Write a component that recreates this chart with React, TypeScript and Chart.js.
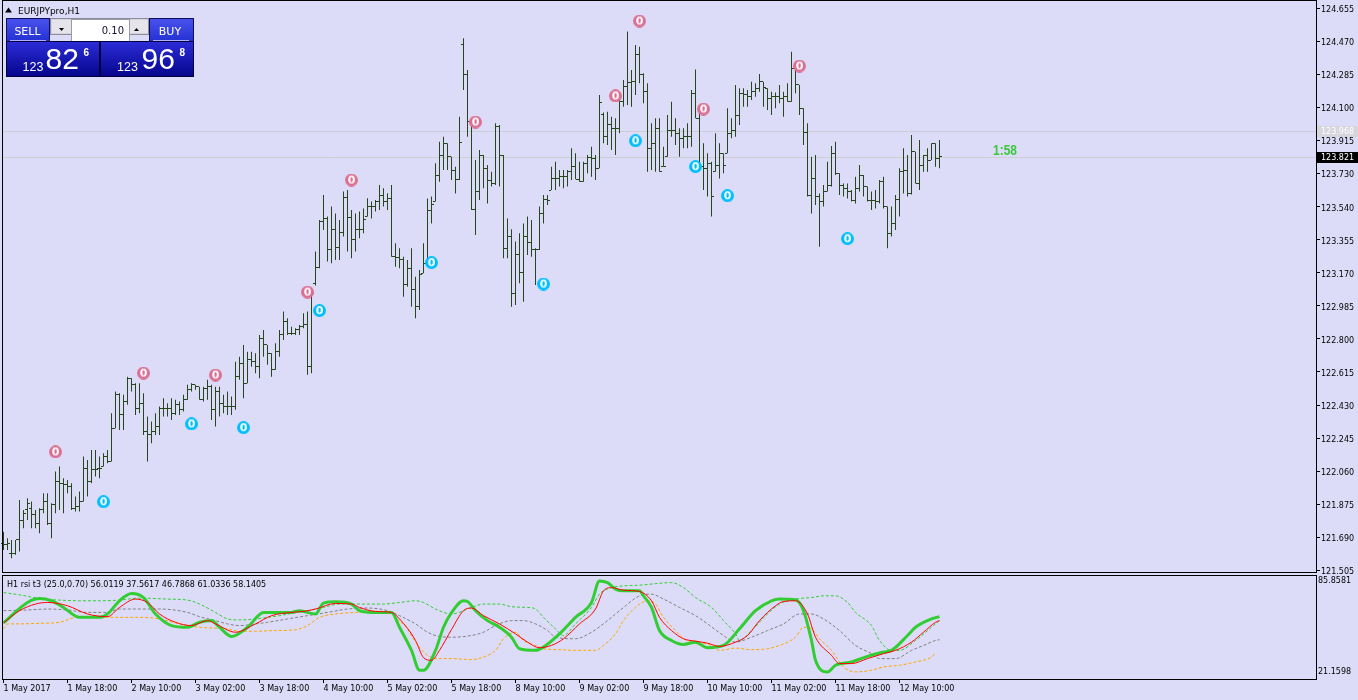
import React, { useEffect, useRef } from 'react';
import { Chart, registerables } from 'chart.js';

Chart.register(...registerables);

// ---------- texts ----------
const symbolTitle = 'EURJPYpro,H1';
const indicatorTitle = 'H1 rsi t3 (25.0,0.70) 56.0119 37.5617 46.7868 61.0336 58.1405';
const lotSize = '0.10';
const sellParts = ['123', '82', '6'];
const buyParts = ['123', '96', '8'];
const timerText = '1:58';
const bidPrice = 123.821;
const askPrice = 123.968;
const bidLabel = '123.821';
const askLabel = '123.968';

// ---------- axes ----------
const priceTicks = [124.655, 124.47, 124.285, 124.1, 123.915, 123.73, 123.54, 123.355, 123.17, 122.985, 122.8, 122.615, 122.43, 122.245, 122.06, 121.875, 121.69, 121.505];
const priceMin = 121.494;
const priceMax = 124.7;
const rsiMin = 21.1598;
const rsiMax = 85.8581;
const rsiAxisLabels = ['85.8581', '21.1598'];
const timeTickIdx = [0, 16, 32, 48, 64, 80, 96, 112, 128, 144, 160, 176, 192, 208, 224];
const timeLabels = ['1 May 2017', '1 May 18:00', '2 May 10:00', '3 May 02:00', '3 May 18:00', '4 May 10:00', '5 May 02:00', '5 May 18:00', '8 May 10:00', '9 May 02:00', '9 May 18:00', '10 May 10:00', '11 May 02:00', '11 May 18:00', '12 May 10:00'];
const X_MIN = -0.375;
const X_MAX = 328.125;

// ---------- OHLC (H1 bars) ----------
const opens = [
  121.655, 121.646, 121.599, 121.599, 121.674, 121.782, 121.842, 121.851, 121.814, 121.767,
  121.842, 121.889, 121.767, 121.870, 122.001, 121.991, 121.982, 121.973, 121.851, 121.861,
  121.889, 122.076, 122.001, 122.066, 122.076, 122.085, 122.141, 122.113, 122.300, 122.487,
  122.374, 122.449, 122.580, 122.543, 122.412, 122.440, 122.281, 122.262, 122.281, 122.309,
  122.412, 122.412, 122.412, 122.384, 122.431, 122.403, 122.459, 122.515, 122.543, 122.533,
  122.459, 122.524, 122.533, 122.403, 122.505, 122.440, 122.421, 122.421, 122.421, 122.589,
  122.664, 122.552, 122.683, 122.673, 122.645, 122.804, 122.767, 122.720, 122.627, 122.729,
  122.823, 122.898, 122.832, 122.832, 122.851, 122.869, 122.879, 122.645, 123.110, 123.202,
  123.460, 123.476, 123.299, 123.415, 123.310, 123.396, 123.594, 123.482, 123.359, 123.411,
  123.411, 123.486, 123.542, 123.545, 123.570, 123.602, 123.570, 123.588, 123.261, 123.258,
  123.243, 123.106, 123.196, 123.075, 122.981, 123.168, 123.224, 123.519, 123.570, 123.719,
  123.826, 123.897, 123.822, 123.747, 123.695, 124.448, 124.280, 124.018, 123.523, 123.626,
  123.831, 123.753, 123.691, 123.669, 123.990, 123.826, 123.308, 123.377, 123.056, 123.275,
  123.174, 123.377, 123.340, 123.299, 123.299, 123.504, 123.583, 123.635, 123.701, 123.701,
  123.710, 123.710, 123.738, 123.766, 123.695, 123.682, 123.785, 123.818, 123.813, 123.757,
  124.060, 123.934, 124.003, 123.979, 123.979, 124.130, 124.214, 124.237, 124.242, 124.397,
  124.280, 124.186, 123.869, 123.897, 123.981, 123.766, 123.822, 123.971, 123.971, 123.953,
  123.925, 123.934, 123.934, 124.177, 124.037, 123.766, 123.757, 123.785, 123.738, 123.775,
  123.841, 123.841, 123.953, 123.971, 124.055, 124.177, 124.168, 124.158, 124.186, 124.205,
  124.242, 124.205, 124.149, 124.158, 124.158, 124.149, 124.158, 124.130, 124.317, 124.224,
  124.093, 123.956, 123.607, 123.700, 123.598, 123.570, 123.626, 123.663, 123.841, 123.729,
  123.663, 123.644, 123.626, 123.579, 123.644, 123.719, 123.654, 123.579, 123.575, 123.570,
  123.682, 123.542, 123.392, 123.448, 123.583, 123.738, 123.747, 123.616, 123.850, 123.672,
  123.775, 123.831, 123.803, 123.897, 123.813,
];
const highs = [
  121.720, 121.683, 121.674, 121.674, 121.898, 121.842, 121.907, 121.889, 121.842, 121.851,
  121.935, 121.935, 121.879, 122.057, 122.085, 122.020, 122.010, 121.991, 121.917, 121.945,
  122.141, 122.122, 122.178, 122.178, 122.141, 122.160, 122.178, 122.384, 122.505, 122.496,
  122.487, 122.589, 122.580, 122.552, 122.552, 122.496, 122.365, 122.337, 122.384, 122.421,
  122.468, 122.440, 122.468, 122.459, 122.449, 122.487, 122.543, 122.552, 122.543, 122.533,
  122.533, 122.571, 122.543, 122.533, 122.533, 122.487, 122.505, 122.477, 122.673, 122.701,
  122.767, 122.729, 122.729, 122.720, 122.823, 122.851, 122.767, 122.720, 122.776, 122.851,
  122.954, 122.916, 122.869, 122.860, 122.879, 122.944, 122.954, 123.056, 123.290, 123.467,
  123.607, 123.486, 123.542, 123.504, 123.467, 123.626, 123.635, 123.523, 123.504, 123.514,
  123.532, 123.589, 123.570, 123.579, 123.663, 123.645, 123.617, 123.663, 123.336, 123.308,
  123.261, 123.243, 123.308, 123.149, 123.187, 123.336, 123.588, 123.598, 123.785, 123.906,
  123.934, 123.897, 123.822, 123.766, 124.046, 124.485, 124.308, 124.028, 123.803, 123.859,
  123.831, 123.775, 123.738, 124.009, 124.000, 123.831, 123.476, 123.415, 123.346, 123.392,
  123.448, 123.486, 123.467, 123.308, 123.542, 123.607, 123.607, 123.766, 123.794, 123.747,
  123.747, 123.747, 123.869, 123.841, 123.794, 123.794, 123.831, 123.878, 123.831, 124.168,
  124.069, 124.074, 124.046, 124.037, 124.140, 124.252, 124.523, 124.308, 124.448, 124.438,
  124.289, 124.233, 124.009, 124.037, 124.037, 123.878, 124.055, 124.130, 124.037, 123.981,
  123.981, 124.009, 124.196, 124.311, 124.065, 123.897, 123.841, 123.794, 123.953, 123.897,
  123.841, 124.093, 124.037, 124.224, 124.205, 124.205, 124.196, 124.242, 124.233, 124.285,
  124.242, 124.205, 124.186, 124.181, 124.224, 124.186, 124.233, 124.410, 124.326, 124.224,
  124.093, 124.009, 123.822, 123.831, 123.616, 123.663, 123.794, 123.882, 123.906, 123.729,
  123.672, 123.672, 123.635, 123.710, 123.775, 123.719, 123.654, 123.626, 123.635, 123.691,
  123.710, 123.542, 123.542, 123.607, 123.757, 123.869, 123.831, 123.943, 123.850, 123.915,
  123.831, 123.869, 123.897, 123.897, 123.915,
];
const lows = [
  121.618, 121.618, 121.571, 121.590, 121.609, 121.739, 121.786, 121.739, 121.739, 121.711,
  121.823, 121.758, 121.683, 121.823, 121.842, 121.823, 121.935, 121.842, 121.833, 121.833,
  121.889, 121.917, 121.991, 122.029, 122.020, 122.085, 122.104, 122.113, 122.300, 122.290,
  122.290, 122.431, 122.505, 122.374, 122.384, 122.262, 122.113, 122.216, 122.262, 122.262,
  122.365, 122.365, 122.346, 122.374, 122.374, 122.393, 122.459, 122.505, 122.515, 122.459,
  122.449, 122.459, 122.346, 122.309, 122.365, 122.384, 122.374, 122.374, 122.403, 122.571,
  122.468, 122.552, 122.645, 122.608, 122.580, 122.701, 122.655, 122.589, 122.627, 122.701,
  122.795, 122.823, 122.823, 122.823, 122.823, 122.860, 122.599, 122.608, 123.100, 123.196,
  123.411, 123.234, 123.224, 123.243, 123.243, 123.374, 123.290, 123.252, 123.290, 123.364,
  123.392, 123.486, 123.476, 123.514, 123.523, 123.542, 123.523, 123.261, 123.205, 123.196,
  123.037, 123.093, 122.981, 122.916, 122.963, 123.168, 123.205, 123.448, 123.570, 123.682,
  123.747, 123.747, 123.691, 123.616, 123.691, 124.196, 123.934, 123.523, 123.383, 123.579,
  123.645, 123.560, 123.654, 123.663, 123.654, 123.252, 123.252, 122.981, 122.991, 123.112,
  123.009, 123.271, 123.261, 123.103, 123.299, 123.448, 123.551, 123.635, 123.635, 123.654,
  123.645, 123.654, 123.691, 123.695, 123.682, 123.682, 123.729, 123.710, 123.691, 123.757,
  123.897, 123.887, 123.859, 123.831, 123.953, 124.102, 124.112, 124.102, 124.168, 124.233,
  124.121, 123.738, 123.747, 123.738, 123.738, 123.766, 123.822, 123.934, 123.887, 123.822,
  123.869, 123.869, 123.878, 124.037, 123.757, 123.635, 123.598, 123.486, 123.738, 123.700,
  123.729, 123.841, 123.925, 123.934, 123.999, 124.102, 124.102, 124.140, 124.158, 124.186,
  124.102, 124.083, 124.055, 124.093, 124.121, 124.046, 124.130, 124.130, 124.177, 124.055,
  123.887, 123.598, 123.504, 123.551, 123.317, 123.542, 123.626, 123.654, 123.719, 123.607,
  123.598, 123.588, 123.570, 123.560, 123.626, 123.598, 123.570, 123.523, 123.532, 123.560,
  123.532, 123.308, 123.374, 123.411, 123.486, 123.616, 123.598, 123.610, 123.672, 123.635,
  123.738, 123.738, 123.803, 123.766, 123.757,
];
const closes = [
  121.646, 121.655, 121.599, 121.674, 121.782, 121.823, 121.879, 121.814, 121.767, 121.842,
  121.889, 121.767, 121.870, 122.001, 121.991, 121.982, 121.973, 121.851, 121.861, 121.889,
  122.076, 122.001, 122.066, 122.066, 122.076, 122.141, 122.113, 122.300, 122.487, 122.374,
  122.449, 122.580, 122.543, 122.412, 122.440, 122.281, 122.262, 122.281, 122.309, 122.412,
  122.412, 122.412, 122.384, 122.431, 122.403, 122.459, 122.515, 122.543, 122.533, 122.459,
  122.524, 122.533, 122.403, 122.505, 122.440, 122.421, 122.421, 122.421, 122.589, 122.664,
  122.552, 122.683, 122.673, 122.645, 122.804, 122.767, 122.720, 122.627, 122.729, 122.823,
  122.898, 122.832, 122.832, 122.851, 122.869, 122.879, 122.645, 123.056, 123.202, 123.460,
  123.476, 123.299, 123.415, 123.310, 123.396, 123.594, 123.482, 123.359, 123.411, 123.411,
  123.467, 123.542, 123.545, 123.570, 123.602, 123.570, 123.588, 123.261, 123.258, 123.243,
  123.106, 123.196, 123.075, 122.981, 123.159, 123.224, 123.519, 123.555, 123.719, 123.826,
  123.897, 123.822, 123.747, 123.695, 123.902, 124.280, 124.018, 123.523, 123.626, 123.831,
  123.753, 123.691, 123.669, 123.990, 123.826, 123.308, 123.377, 123.056, 123.275, 123.174,
  123.377, 123.340, 123.299, 123.299, 123.504, 123.583, 123.579, 123.701, 123.701, 123.710,
  123.710, 123.738, 123.766, 123.695, 123.682, 123.785, 123.818, 123.813, 123.757, 124.127,
  123.934, 124.003, 123.979, 123.979, 124.130, 124.214, 124.237, 124.242, 124.397, 124.280,
  124.186, 123.869, 123.897, 123.981, 123.738, 123.766, 123.971, 123.971, 123.953, 123.925,
  123.934, 123.934, 124.177, 124.037, 123.766, 123.757, 123.785, 123.598, 123.775, 123.841,
  123.775, 123.953, 123.971, 124.055, 124.177, 124.168, 124.158, 124.186, 124.205, 124.242,
  124.210, 124.149, 124.158, 124.158, 124.149, 124.158, 124.130, 124.317, 124.224, 124.093,
  123.956, 123.607, 123.700, 123.598, 123.570, 123.626, 123.663, 123.841, 123.729, 123.663,
  123.644, 123.626, 123.579, 123.644, 123.719, 123.654, 123.579, 123.575, 123.570, 123.682,
  123.542, 123.392, 123.448, 123.583, 123.738, 123.747, 123.616, 123.850, 123.672, 123.775,
  123.831, 123.803, 123.897, 123.813, 123.821,
];

// ---------- signal markers ----------
const upSignalIdx = [13, 35, 53, 76, 87, 118, 153, 159, 175, 199];
const upSignalPrice = [122.167, 122.609, 122.598, 123.063, 123.691, 124.016, 124.162, 124.582, 124.089, 124.330];
const dnSignalIdx = [25, 47, 60, 79, 107, 135, 158, 173, 181, 211];
const dnSignalPrice = [121.888, 122.324, 122.303, 122.959, 123.228, 123.108, 123.911, 123.766, 123.603, 123.362];

// ---------- indicator lines ----------
const rsiFastIdx = [0, 6, 9, 12, 15, 19, 24, 26, 29, 32, 35, 38, 42, 46, 49, 52, 54, 57, 61, 65, 68, 72, 74, 78, 80, 83, 87, 89, 93, 97, 99, 102, 104, 105, 108, 110, 112, 115, 116, 118, 121, 124, 127, 129, 133, 135, 139, 143, 147, 149, 151, 153, 155, 159, 160, 162, 164, 167, 170, 173, 176, 180, 184, 188, 192, 194, 198, 200, 202, 203, 206, 208, 212, 216, 220, 222, 226, 228, 232, 234];
const rsiFastVal = [56.06, 68.77, 71.24, 69.82, 65.68, 59.51, 59.51, 61.61, 69.82, 74.32, 71.85, 61.61, 54.39, 53.34, 56.43, 57.48, 53.34, 47.6, 53.34, 62.59, 62.59, 62.59, 63.65, 61.61, 68.4, 69.2, 67.78, 63.65, 62.59, 62.59, 53.34, 38.97, 26.63, 26.63, 38.97, 53.34, 62.41, 69.82, 69.39, 63.65, 57.48, 53.34, 47.17, 40.01, 38.97, 41.0, 49.27, 59.51, 68.77, 82.16, 81.11, 77.03, 75.99, 75.99, 72.9, 65.68, 51.31, 45.14, 42.67, 44.09, 40.63, 42.05, 52.36, 63.65, 69.82, 70.87, 70.43, 63.65, 45.14, 32.8, 25.58, 29.71, 31.75, 35.26, 37.92, 38.97, 48.22, 53.34, 58.53, 59.94];
const rsiRedIdx = [0, 4, 8, 11, 16, 21, 26, 29, 33, 36, 39, 43, 47, 51, 53, 58, 63, 67, 72, 75, 78, 83, 87, 89, 93, 97, 99, 103, 105, 107, 109, 112, 115, 117, 120, 124, 128, 131, 134, 137, 140, 144, 148, 150, 152, 155, 159, 162, 164, 167, 170, 173, 176, 179, 183, 186, 189, 193, 195, 198, 201, 203, 207, 209, 212, 216, 220, 223, 227, 230, 233, 234];
const rsiRedVal = [56.06, 63.65, 67.78, 68.77, 66.73, 61.61, 59.94, 65.68, 70.87, 68.77, 61.61, 56.43, 54.39, 57.48, 55.44, 50.26, 55.44, 60.56, 62.59, 63.21, 64.69, 68.15, 67.78, 65.68, 63.21, 62.59, 58.53, 45.14, 34.46, 32.8, 38.97, 51.92, 63.65, 65.31, 60.56, 55.44, 49.27, 44.09, 40.63, 42.05, 46.19, 55.44, 64.69, 75.99, 78.02, 76.42, 75.55, 69.82, 59.51, 51.31, 46.19, 44.7, 43.47, 41.43, 44.09, 48.22, 57.48, 66.73, 69.39, 69.82, 61.61, 47.17, 35.88, 30.76, 30.76, 33.84, 36.93, 38.97, 44.09, 50.26, 56.43, 57.48];
const rsiSigIdx = [0, 4, 10, 14, 19, 24, 29, 34, 41, 46, 49, 53, 56, 59, 63, 66, 69, 72, 76, 80, 84, 89, 95, 99, 103, 105, 108, 112, 117, 120, 124, 127, 131, 133, 135, 138, 140, 143, 147, 149, 152, 155, 160, 163, 167, 170, 173, 177, 180, 183, 184, 187, 191, 194, 198, 202, 205, 208, 211, 213, 217, 219, 222, 224, 228, 232, 234];
const rsiSigVal = [74.94, 73.52, 70.87, 70.25, 69.82, 69.82, 70.25, 71.48, 70.87, 70.25, 67.78, 62.59, 58.53, 57.91, 58.53, 59.51, 60.56, 61.98, 63.65, 65.68, 67.78, 67.78, 67.78, 68.77, 69.82, 68.77, 64.69, 61.61, 65.68, 67.78, 67.78, 66.11, 65.68, 64.69, 59.51, 52.36, 48.22, 55.44, 65.68, 73.95, 78.02, 79.07, 79.69, 80.49, 81.11, 78.02, 71.85, 65.68, 57.48, 49.27, 45.14, 51.31, 61.61, 67.78, 70.87, 71.85, 72.9, 72.9, 68.77, 62.59, 54.39, 45.14, 38.97, 38.97, 45.14, 53.34, 57.48];
const rsiGrayIdx = [0, 6, 11, 16, 21, 26, 29, 34, 39, 46, 49, 53, 56, 59, 63, 66, 71, 76, 81, 86, 91, 96, 99, 103, 106, 109, 112, 117, 120, 123, 127, 130, 133, 136, 138, 143, 147, 151, 155, 159, 162, 165, 169, 173, 176, 180, 183, 187, 191, 195, 199, 202, 205, 209, 213, 217, 219, 223, 227, 230, 233, 234];
const rsiGrayVal = [63.65, 64.08, 64.69, 64.08, 62.59, 62.59, 64.69, 64.69, 64.69, 62.59, 59.94, 57.48, 55.44, 54.39, 55.44, 56.43, 58.53, 60.56, 62.59, 64.69, 65.31, 63.65, 60.56, 55.44, 50.26, 47.6, 47.17, 48.22, 50.26, 54.39, 57.48, 57.48, 55.44, 51.31, 47.17, 46.19, 50.26, 57.48, 65.68, 72.9, 73.95, 70.87, 65.68, 60.56, 55.44, 48.22, 44.09, 47.17, 51.31, 55.44, 61.61, 61.61, 58.53, 51.31, 42.05, 36.93, 33.84, 33.84, 38.97, 41.99, 45.14, 45.6];
const rsiOrIdx = [0, 1, 4, 9, 14, 18, 23, 28, 34, 39, 44, 49, 56, 59, 63, 68, 73, 76, 79, 83, 88, 93, 97, 98, 101, 103, 106, 108, 112, 117, 120, 123, 125, 128, 130, 133, 135, 139, 143, 148, 150, 153, 155, 158, 161, 163, 165, 168, 170, 173, 177, 179, 183, 187, 191, 194, 198, 200, 202, 204, 207, 210, 213, 217, 220, 224, 228, 232, 233];
const rsiOrVal = [52.36, 55.44, 55.44, 55.81, 56.43, 59.51, 59.94, 59.51, 59.51, 58.53, 55.44, 53.34, 52.36, 50.87, 50.87, 51.31, 51.74, 54.39, 59.51, 61.61, 62.59, 63.21, 62.59, 59.51, 52.36, 44.09, 35.88, 33.84, 33.84, 33.23, 34.83, 38.97, 46.19, 50.26, 45.14, 42.05, 40.01, 39.4, 38.97, 38.97, 42.05, 49.27, 57.48, 65.68, 69.82, 67.78, 59.51, 51.31, 46.19, 44.09, 42.05, 38.97, 40.38, 39.4, 40.01, 42.05, 47.17, 53.34, 52.36, 46.19, 38.97, 28.66, 25.58, 26.63, 28.66, 29.71, 31.75, 34.83, 37.3];

// ---------- styles ----------
const BG = '#DCDCF8';
const BAR_COLOR = '#26461C';
const AXIS_FONT = { family: 'DejaVu Sans', size: 8 };

const pts = (idx: number[], val: number[]) => idx.map((x, k) => ({ x, y: val[k] }));

function makeMarker(color: string) {
  const c = document.createElement('canvas');
  c.width = 13;
  c.height = 13;
  const g = c.getContext('2d') as CanvasRenderingContext2D;
  g.fillStyle = color;
  g.beginPath();
  g.arc(6.5, 6.5, 6.5, 0, Math.PI * 2);
  g.fill();
  g.fillStyle = '#ffffff';
  g.font = 'bold 11px "DejaVu Sans"';
  g.textAlign = 'center';
  g.textBaseline = 'middle';
  g.fillText('0', 6.5, 7);
  return c;
}

const mainDecor = {
  id: 'mainDecor',
  beforeDatasetsDraw(chart: any) {
    const { ctx, chartArea: a, scales } = chart;
    const xs = scales.x;
    const ys = scales.y;
    ctx.save();
    ctx.strokeStyle = '#CDCDD6';
    ctx.lineWidth = 1;
    [askPrice, bidPrice].forEach((p) => {
      const y = Math.round(ys.getPixelForValue(p)) + 0.5;
      ctx.beginPath();
      ctx.moveTo(a.left, y);
      ctx.lineTo(a.right, y);
      ctx.stroke();
    });
    ctx.fillStyle = BAR_COLOR;
    for (let i = 0; i < opens.length; i++) {
      const x = xs.getPixelForValue(i);
      const yo = Math.floor(ys.getPixelForValue(opens[i]));
      const yc = Math.floor(ys.getPixelForValue(closes[i]));
      ctx.fillRect(x - 2.5, yo, 2, 1);
      ctx.fillRect(x + 0.5, yc, 2, 1);
    }
    ctx.restore();
  },
  afterDraw(chart: any) {
    const { ctx, chartArea: a, scales } = chart;
    const ys = scales.y;
    ctx.save();
    ctx.strokeStyle = '#000';
    ctx.lineWidth = 1;
    ctx.strokeRect(a.left + 0.5, a.top + 0.5, a.right - a.left, a.bottom - a.top);
    ctx.font = '8px "DejaVu Sans"';
    ctx.textBaseline = 'middle';
    ctx.textAlign = 'left';
    const ya = Math.round(ys.getPixelForValue(askPrice));
    ctx.fillStyle = '#D6D6DC';
    ctx.fillRect(a.right + 1, ya - 5, 41, 11);
    ctx.fillStyle = '#ffffff';
    ctx.fillText(askLabel, a.right + 5, ya + 0.5);
    const yb = Math.round(ys.getPixelForValue(bidPrice));
    ctx.fillStyle = '#000';
    ctx.fillRect(a.right + 1, yb - 5, 41, 11);
    ctx.fillStyle = '#ffffff';
    ctx.fillText(bidLabel, a.right + 5, yb + 0.5);
    ctx.restore();
  },
};

const rsiDecor = {
  id: 'rsiDecor',
  afterDraw(chart: any) {
    const { ctx, chartArea: a } = chart;
    ctx.save();
    ctx.strokeStyle = '#000';
    ctx.lineWidth = 1;
    ctx.strokeRect(a.left + 0.5, a.top + 0.5, a.right - a.left, a.bottom - a.top);
    ctx.fillStyle = '#000';
    ctx.font = '8px "DejaVu Sans"';
    ctx.textBaseline = 'middle';
    ctx.textAlign = 'left';
    ctx.fillText(rsiAxisLabels[0], a.right + 2, a.top + 6);
    ctx.fillText(rsiAxisLabels[1], a.right + 2, a.bottom - 7);
    ctx.restore();
  },
};

export default function App() {
  const mainRef = useRef<HTMLCanvasElement>(null);
  const rsiRef = useRef<HTMLCanvasElement>(null);

  useEffect(() => {
    document.body.style.margin = '0';
    document.body.style.background = BG;
    const pinkImg = makeMarker('#DB7093');
    const cyanImg = makeMarker('#00BFFF');

    const main = new Chart(mainRef.current as HTMLCanvasElement, {
      type: 'bar',
      data: {
        datasets: [
          { type: 'scatter', data: pts(upSignalIdx, upSignalPrice), pointStyle: pinkImg, pointRadius: 6 } as any,
          { type: 'scatter', data: pts(dnSignalIdx, dnSignalPrice), pointStyle: cyanImg, pointRadius: 6 } as any,
          {
            type: 'bar',
            data: highs.map((h, i) => ({ x: i, y: [lows[i], h] })),
            backgroundColor: BAR_COLOR,
            borderWidth: 0,
            barThickness: 1,
            inflateAmount: 0,
          } as any,
        ],
      },
      options: {
        animation: false,
        responsive: false,
        maintainAspectRatio: false,
        devicePixelRatio: 1,
        events: [],
        layout: { autoPadding: false, padding: { left: 2, top: 0, bottom: 2, right: 0 } },
        plugins: { legend: { display: false }, tooltip: { enabled: false } },
        scales: {
          x: { type: 'linear', min: X_MIN, max: X_MAX, offset: false, display: false },
          y: {
            position: 'right',
            min: priceMin,
            max: priceMax,
            afterBuildTicks: (s: any) => {
              s.ticks = priceTicks.map((v) => ({ value: v }));
            },
            afterFit: (s: any) => {
              s.width = 42;
              s.paddingTop = 0;
              s.paddingBottom = 0;
            },
            ticks: { color: '#000', font: AXIS_FONT, padding: 1, labelOffset: 1.5, callback: (v: any) => Number(v).toFixed(3) },
            grid: { drawOnChartArea: false, drawTicks: true, tickLength: 4, color: '#000' },
            border: { display: true, color: '#000' },
          },
        },
      } as any,
      plugins: [mainDecor],
    });

    const lineDs = (label: string, idx: number[], val: number[], color: string, width: number, dash: number[]) => ({
      type: 'line',
      label,
      data: pts(idx, val),
      borderColor: color,
      borderWidth: width,
      borderDash: dash,
      pointRadius: 0,
      fill: false,
      cubicInterpolationMode: 'monotone',
    });

    const rsi = new Chart(rsiRef.current as HTMLCanvasElement, {
      type: 'line',
      data: {
        datasets: [
          lineDs('red', rsiRedIdx, rsiRedVal, '#FF0000', 1, []),
          lineDs('fast', rsiFastIdx, rsiFastVal, '#32CD32', 3, []),
          lineDs('signal', rsiSigIdx, rsiSigVal, '#32CD32', 1, [3, 2]),
          lineDs('gray', rsiGrayIdx, rsiGrayVal, '#808080', 1, [3, 2]),
          lineDs('orange', rsiOrIdx, rsiOrVal, '#FFA500', 1, [3, 2]),
        ] as any,
      },
      options: {
        animation: false,
        responsive: false,
        maintainAspectRatio: false,
        devicePixelRatio: 1,
        events: [],
        layout: { autoPadding: false, padding: { left: 2, top: 1, bottom: 0, right: 0 } },
        plugins: { legend: { display: false }, tooltip: { enabled: false } },
        scales: {
          x: {
            type: 'linear',
            min: X_MIN,
            max: X_MAX,
            offset: false,
            afterBuildTicks: (s: any) => {
              s.ticks = timeTickIdx.map((v) => ({ value: v }));
            },
            afterFit: (s: any) => {
              s.height = 21;
              s.paddingLeft = 0;
              s.paddingRight = 0;
            },
            ticks: {
              autoSkip: false,
              maxRotation: 0,
              minRotation: 0,
              align: 'start',
              padding: 1,
              color: '#000',
              font: AXIS_FONT,
              callback: (_v: any, i: number) => timeLabels[i],
            },
            grid: { drawOnChartArea: false, drawTicks: true, tickLength: 4, color: '#000' },
            border: { display: true, color: '#000' },
          },
          y: {
            position: 'right',
            min: rsiMin,
            max: rsiMax,
            afterFit: (s: any) => {
              s.width = 42;
              s.paddingTop = 0;
              s.paddingBottom = 0;
            },
            ticks: { display: false },
            grid: { drawOnChartArea: false, drawTicks: false },
            border: { display: true, color: '#000' },
          },
        },
      } as any,
      plugins: [rsiDecor],
    });

    return () => {
      main.destroy();
      rsi.destroy();
    };
  }, []);

  const tahoma = 'DejaVu Sans';
  const arial = 'Liberation Sans';

  return (
    <div style={{ position: 'relative', width: 1358, height: 700, background: BG, overflow: 'hidden' }}>
      <canvas ref={mainRef} width={1358} height={574} style={{ position: 'absolute', left: 0, top: 0 }} />
      <canvas ref={rsiRef} width={1358} height={126} style={{ position: 'absolute', left: 0, top: 574 }} />
      <svg width={1358} height={700} style={{ position: 'absolute', left: 0, top: 0, pointerEvents: 'none' }}>
        <defs>
          <linearGradient id="hdrGrad" x1="0" y1="0" x2="0" y2="1">
            <stop offset="0" stopColor="#4A52EE" />
            <stop offset="1" stopColor="#2430D2" />
          </linearGradient>
          <linearGradient id="pxGrad" x1="0" y1="0" x2="0" y2="1">
            <stop offset="0" stopColor="#2C2CD8" />
            <stop offset="1" stopColor="#05058C" />
          </linearGradient>
        </defs>
        <polygon points="5,12.5 8.5,7.5 12,12.5" fill="#000" />
        <text x={18} y={14} fontFamily={tahoma} fontSize={9} fill="#000">{symbolTitle}</text>

        <rect x={6.5} y={18.5} width={43} height={23} fill="url(#hdrGrad)" stroke="#10105A" />
        <text x={27.5} y={35} textAnchor="middle" fontFamily={tahoma} fontSize={11} fill="#fff">SELL</text>
        <line x1={10} y1={40.5} x2={46} y2={40.5} stroke="#A8B0FF" />

        <rect x={50.5} y={18.5} width={98} height={16} fill="#D4D4DC" stroke="#8C8C9C" />
        <rect x={52} y={20} width={19} height={13} fill="#E4E4EA" />
        <polygon points="59,28 64,28 61.5,31" fill="#000" />
        <rect x={71.5} y={19.5} width={58} height={22} fill="#ffffff" stroke="#9A9AA8" />
        <text x={124} y={33.5} textAnchor="end" fontFamily={tahoma} fontSize={10} fill="#101030">{lotSize}</text>
        <rect x={130} y={20} width={18} height={13} fill="#E4E4EA" />
        <polygon points="134,31 139,31 136.5,28" fill="#000" />

        <rect x={149.5} y={18.5} width={44} height={23} fill="url(#hdrGrad)" stroke="#10105A" />
        <text x={170} y={35} textAnchor="middle" fontFamily={tahoma} fontSize={11} fill="#fff">BUY</text>
        <line x1={153} y1={40.5} x2={189} y2={40.5} stroke="#A8B0FF" />

        <rect x={6.5} y={41.5} width={93} height={35} fill="url(#pxGrad)" stroke="#00003C" />
        <text x={22.5} y={70.7} fontFamily={arial} fontSize={12.5} fill="#fff">{sellParts[0]}</text>
        <text x={45.5} y={68.5} fontFamily={arial} fontSize={30} fill="#fff">{sellParts[1]}</text>
        <text x={83.5} y={55.7} fontFamily={arial} fontSize={10} fontWeight="bold" fill="#fff">{sellParts[2]}</text>

        <rect x={100.5} y={41.5} width={93} height={35} fill="url(#pxGrad)" stroke="#00003C" />
        <text x={117} y={70.7} fontFamily={arial} fontSize={12.5} fill="#fff">{buyParts[0]}</text>
        <text x={141.5} y={68.5} fontFamily={arial} fontSize={30} fill="#fff">{buyParts[1]}</text>
        <text x={179.5} y={55.7} fontFamily={arial} fontSize={10} fontWeight="bold" fill="#fff">{buyParts[2]}</text>

        <text x={993} y={154.5} fontFamily={arial} fontSize={15} fontWeight="bold" fill="#3CC83C" textLength={24} lengthAdjust="spacingAndGlyphs">{timerText}</text>

        <text x={7} y={586.5} fontFamily={tahoma} fontSize={8} fill="#000">{indicatorTitle}</text>
      </svg>
    </div>
  );
}
